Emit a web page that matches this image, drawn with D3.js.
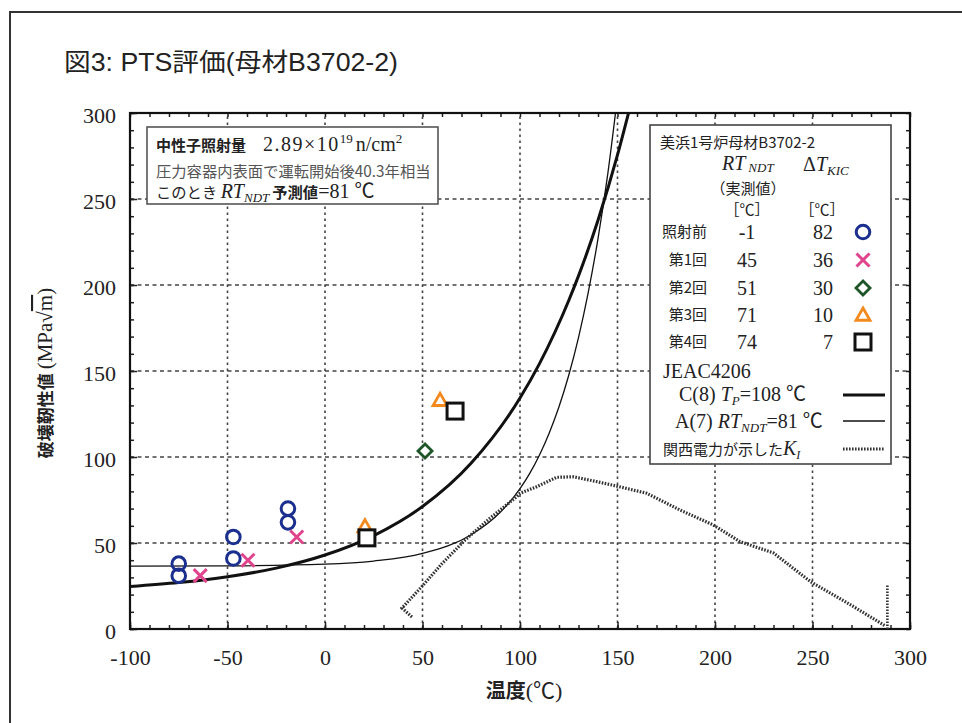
<!DOCTYPE html>
<html>
<head>
<meta charset="utf-8">
<script src="https://cdn.jsdelivr.net/npm/d3@7"></script>
<style>
  body { margin: 0; background: #fff; }
  svg { display: block; }
</style>
</head>
<body>
<svg id="chart" width="962" height="723"></svg>
<script>
// ---- axis ticks ----
const xTickValues = [-100, -50, 0, 50, 100, 150, 200, 250, 300];
const yTickValues = [0, 50, 100, 150, 200, 250, 300];

// ---- measured fracture toughness (T [°C], K [MPa√m]) ----
const preIrradiation = [[-75, 38], [-75, 31], [-47, 53.5], [-47, 41], [-19, 70], [-19, 62]];
const test1 = [[-64, 31], [-39.5, 40], [-14.5, 53.5]];
const test2 = [[51.3, 103.5]];
const test3 = [[20.5, 59.5], [59, 133]];
const test4 = [[21.5, 53], [66.7, 126.7]];

// ---- JEAC4206 C(8) curve, Tp = 108 °C ----
const curveC_T = [-100, -75, -50, -25, 0, 25, 50, 75, 100, 110, 125, 130, 140, 150, 156];
const curveC_K = [24.7, 27.0, 30.4, 35.4, 43.0, 54.3, 71.2, 96.5, 134.3, 154.3, 191, 205.3, 237.6, 275.6, 301.5];

// ---- JEAC4206 A(7) curve, RTndt = 81 °C ----
const curveA_T = [-100, -50, 0, 25, 50, 75, 90, 100, 105, 110, 115, 120, 125, 130, 135, 140, 145, 150];
const curveA_K = [36.5, 36.7, 37.7, 39.5, 43.9, 54.8, 68, 81.6, 90.5, 101.2, 114, 129.2, 147.5, 169.4, 195.7, 227, 264.5, 309.6];

// ---- K_I transient shown by 関西電力 ----
const kiT = [44.6, 39.5, 49.6, 60, 71.8, 84.6, 98.3, 100, 108.5, 118.8, 127.4, 139.3, 149.6, 165, 182, 199.1, 212.8, 230, 249, 268, 287.2];
const kiK = [7, 12.2, 24.6, 38, 51.7, 64.4, 76.9, 78.9, 82.7, 88.2, 88.5, 85.7, 83.1, 78.9, 69.2, 60.5, 50.8, 44.2, 27.5, 15.1, 1.9];
const kiEndT = 288.4;
const kiEndK = [0, 25.6];

// ---- legend table ----
const legendRows = ["照射前", "第1回", "第2回", "第3回", "第4回"];
const legendRT = ["-1", "45", "51", "71", "74"];
const legendDT = ["82", "36", "30", "10", "7"];

const SERIF = "'Liberation Serif','Times New Roman','Noto Sans CJK JP',serif";
const SANS = "'Liberation Sans',Arial,'Noto Sans CJK JP',sans-serif";
const CJK = "'Noto Sans CJK JP','Liberation Sans',sans-serif";

const svg = d3.select("#chart");

// outer page frame
svg.append("rect").attr("x", 10).attr("y", 12).attr("width", 1000).attr("height", 800)
  .attr("fill", "none").attr("stroke", "#333").attr("stroke-width", 2);

// title
svg.append("text").attr("x", 64).attr("y", 71)
  .attr("font-family", SANS).attr("font-size", 25).attr("fill", "#222")
  .attr("textLength", 334).attr("lengthAdjust", "spacingAndGlyphs")
  .text("図3: PTS評価(母材B3702-2)");

const x = d3.scaleLinear().domain([-100, 300]).range([130, 910]);
const y = d3.scaleLinear().domain([0, 300]).range([629, 113]);

const plot = svg.append("g");

// clip region for curves
svg.append("defs").append("clipPath").attr("id", "plotClip")
  .append("rect").attr("x", x(-100)).attr("y", y(300))
  .attr("width", x(300) - x(-100)).attr("height", y(0) - y(300));

// grid
const gridX = xTickValues.filter(v => v > -100 && v < 300);
const gridY = yTickValues.filter(v => v > 0 && v < 300);
plot.append("g").selectAll("line").data(gridX).join("line")
  .attr("x1", d => x(d)).attr("x2", d => x(d))
  .attr("y1", y(0)).attr("y2", y(300))
  .attr("stroke", "#444").attr("stroke-width", 1.6).attr("stroke-dasharray", "2.5,3.5");
plot.append("g").selectAll("line").data(gridY).join("line")
  .attr("y1", d => y(d)).attr("y2", d => y(d))
  .attr("x1", x(-100)).attr("x2", x(300))
  .attr("stroke", "#444").attr("stroke-width", 1.6).attr("stroke-dasharray", "4,3.5");

// axes: inward ticks on all four sides
const minorX = d3.range(-100, 301, 10);
const minorY = d3.range(0, 301, 10);
function styleAxis(g) {
  g.select(".domain").remove();
  g.selectAll(".tick line").attr("stroke", "#222").attr("stroke-width", 1.5);
}
plot.append("g").attr("transform", `translate(0,${y(0)})`)
  .call(d3.axisBottom(x).tickValues(minorX).tickSize(-4).tickFormat(""))
  .call(styleAxis);
plot.append("g").attr("transform", `translate(0,${y(300)})`)
  .call(d3.axisTop(x).tickValues(minorX).tickSize(-4).tickFormat(""))
  .call(styleAxis);
plot.append("g").attr("transform", `translate(${x(-100)},0)`)
  .call(d3.axisLeft(y).tickValues(minorY).tickSize(-4).tickFormat(""))
  .call(styleAxis);
plot.append("g").attr("transform", `translate(${x(300)},0)`)
  .call(d3.axisRight(y).tickValues(minorY).tickSize(-4).tickFormat(""))
  .call(styleAxis);

const plainNum = d => String(d);
const xAxis = plot.append("g").attr("transform", `translate(0,${y(0)})`)
  .call(d3.axisBottom(x).tickValues(xTickValues).tickSize(-7).tickPadding(20).tickFormat(plainNum))
  .call(styleAxis);
xAxis.selectAll("text").attr("font-family", SERIF).attr("font-size", 22).attr("fill", "#222");

const yAxis = plot.append("g").attr("transform", `translate(${x(-100)},0)`)
  .call(d3.axisLeft(y).tickValues(yTickValues).tickSize(-7).tickPadding(14).tickFormat(plainNum))
  .call(styleAxis);
yAxis.selectAll("text").attr("font-family", SERIF).attr("font-size", 22).attr("fill", "#222")
  .attr("dy", "0.45em");

// plot border
plot.append("rect").attr("x", x(-100)).attr("y", y(300))
  .attr("width", x(300) - x(-100)).attr("height", y(0) - y(300))
  .attr("fill", "none").attr("stroke", "#111").attr("stroke-width", 2.2);

// axis titles
const xl = svg.append("text").attr("x", 524).attr("y", 698).attr("text-anchor", "middle")
  .attr("fill", "#222");
xl.append("tspan").attr("font-family", CJK).attr("font-size", 20).attr("font-weight", "bold").text("温度");
xl.append("tspan").attr("font-family", SERIF).attr("font-size", 22).text("(℃)");

const yl = svg.append("text").attr("transform", "translate(52,373) rotate(-90)")
  .attr("text-anchor", "middle").attr("fill", "#222");
yl.append("tspan").attr("font-family", CJK).attr("font-size", 17).attr("font-weight", "bold").text("破壊靭性値 ");
yl.append("tspan").attr("font-family", SERIF).attr("font-size", 21).text("(MPa√");
yl.append("tspan").attr("font-family", SERIF).attr("font-size", 21).attr("text-decoration", "overline").text("m");
yl.append("tspan").attr("font-family", SERIF).attr("font-size", 21).text(")");

// curves
const curves = svg.append("g").attr("clip-path", "url(#plotClip)");
const smooth = d3.line().x(d => x(d[0])).y(d => y(d[1])).curve(d3.curveMonotoneX);
const straight = d3.line().x(d => x(d[0])).y(d => y(d[1]));

curves.append("path").datum(curveA_T.map((t, i) => [t, curveA_K[i]]))
  .attr("d", smooth).attr("fill", "none").attr("stroke", "#111").attr("stroke-width", 1.3);
curves.append("path").datum(curveC_T.map((t, i) => [t, curveC_K[i]]))
  .attr("d", smooth).attr("fill", "none").attr("stroke", "#111").attr("stroke-width", 3);
curves.append("path").datum(kiT.map((t, i) => [t, kiK[i]]))
  .attr("d", straight).attr("fill", "none").attr("stroke", "#333").attr("stroke-width", 3.2)
  .attr("stroke-dasharray", "1.6,1.4");
curves.append("path").datum(kiEndK.map(k => [kiEndT, k]))
  .attr("d", straight).attr("fill", "none").attr("stroke", "#333").attr("stroke-width", 2.6)
  .attr("stroke-dasharray", "1.6,1.4");

// markers
const BLUE = "#1b2f8f", PINK = "#e0448c", GREEN = "#1d5526", ORANGE = "#f28a1e";
function circleMark(g, cx, cy) {
  g.append("circle").attr("cx", cx).attr("cy", cy).attr("r", 6.8)
    .attr("fill", "none").attr("stroke", BLUE).attr("stroke-width", 3);
}
function crossMark(g, cx, cy) {
  const s = 6.5;
  g.append("path").attr("d", `M${cx - s},${cy - s}L${cx + s},${cy + s}M${cx - s},${cy + s}L${cx + s},${cy - s}`)
    .attr("stroke", PINK).attr("stroke-width", 3).attr("fill", "none");
}
function diamondMark(g, cx, cy) {
  const s = 7;
  g.append("path").attr("d", `M${cx},${cy - s}L${cx + s},${cy}L${cx},${cy + s}L${cx - s},${cy}Z`)
    .attr("stroke", GREEN).attr("stroke-width", 2.8).attr("fill", "#fff");
}
function triMark(g, cx, cy) {
  const s = 7;
  g.append("path").attr("d", `M${cx},${cy - s}L${cx + s},${cy + s * 0.75}L${cx - s},${cy + s * 0.75}Z`)
    .attr("stroke", ORANGE).attr("stroke-width", 2.8).attr("fill", "#fff");
}
function squareMark(g, cx, cy) {
  const s = 8;
  g.append("rect").attr("x", cx - s).attr("y", cy - s).attr("width", 2 * s).attr("height", 2 * s)
    .attr("stroke", "#111").attr("stroke-width", 3).attr("fill", "#fff");
}
const marks = svg.append("g");
preIrradiation.forEach(d => circleMark(marks, x(d[0]), y(d[1])));
test1.forEach(d => crossMark(marks, x(d[0]), y(d[1])));
test2.forEach(d => diamondMark(marks, x(d[0]), y(d[1])));
test3.forEach(d => triMark(marks, x(d[0]), y(d[1])));
test4.forEach(d => squareMark(marks, x(d[0]), y(d[1])));

// fluence note box
const note = svg.append("g");
note.append("rect").attr("x", 147).attr("y", 127).attr("width", 291).attr("height", 77)
  .attr("fill", "#fff").attr("stroke", "#555").attr("stroke-width", 1.6);
const n1 = note.append("text").attr("x", 156).attr("y", 151).attr("fill", "#222");
n1.append("tspan").attr("font-family", CJK).attr("font-size", 15).attr("font-weight", "bold").text("中性子照射量");
n1.append("tspan").attr("font-family", SERIF).attr("font-size", 20).attr("dx", 17).attr("letter-spacing", 1.5).text("2.89×10");
n1.append("tspan").attr("font-family", SERIF).attr("font-size", 13).attr("dy", -8).text("19");
n1.append("tspan").attr("font-family", SERIF).attr("font-size", 20).attr("dy", 8).attr("dx", 3).text("n/cm");
n1.append("tspan").attr("font-family", SERIF).attr("font-size", 13).attr("dy", -8).text("2");
note.append("text").attr("x", 156).attr("y", 177).attr("fill", "#555")
  .attr("font-family", CJK).attr("font-size", 15.3).text("圧力容器内表面で運転開始後40.3年相当");
const n3 = note.append("text").attr("x", 156).attr("y", 198).attr("fill", "#222");
n3.append("tspan").attr("font-family", CJK).attr("font-size", 15.3).text("このとき ");
n3.append("tspan").attr("font-family", SERIF).attr("font-size", 20).attr("font-style", "italic").text("RT");
n3.append("tspan").attr("font-family", SERIF).attr("font-size", 13).attr("font-style", "italic").attr("dy", 4).text("NDT");
n3.append("tspan").attr("font-family", CJK).attr("font-size", 15.3).attr("font-weight", "bold").attr("dy", -4).attr("dx", 3).text("予測値");
n3.append("tspan").attr("font-family", SERIF).attr("font-size", 20).text("=81 ℃");

// legend box
const lg = svg.append("g");
lg.append("rect").attr("x", 650).attr("y", 125).attr("width", 241).attr("height", 339)
  .attr("fill", "#fff").attr("stroke", "#444").attr("stroke-width", 1.6);
lg.append("text").attr("x", 660).attr("y", 148).attr("font-family", CJK).attr("font-size", 15)
  .attr("fill", "#222").text("美浜1号炉母材B3702-2");
const h1 = lg.append("text").attr("x", 722).attr("y", 170).attr("fill", "#222");
h1.append("tspan").attr("font-family", SERIF).attr("font-size", 20).attr("font-style", "italic").text("RT");
h1.append("tspan").attr("font-family", SERIF).attr("font-size", 13).attr("font-style", "italic").attr("dy", 2).attr("dx", 3).text("NDT");
const h2 = lg.append("text").attr("x", 803).attr("y", 171).attr("fill", "#222");
h2.append("tspan").attr("font-family", SERIF).attr("font-size", 20).text("Δ");
h2.append("tspan").attr("font-family", SERIF).attr("font-size", 20).attr("font-style", "italic").text("T");
h2.append("tspan").attr("font-family", SERIF).attr("font-size", 13).attr("font-style", "italic").attr("dy", 4).text("KIC");
lg.append("text").attr("x", 748).attr("y", 194).attr("text-anchor", "middle")
  .attr("font-family", CJK).attr("font-size", 15).attr("fill", "#222").text("（実測値）");
lg.append("text").attr("x", 747).attr("y", 215).attr("text-anchor", "middle")
  .attr("font-family", CJK).attr("font-size", 15).attr("fill", "#222").text("［℃］");
lg.append("text").attr("x", 822).attr("y", 215).attr("text-anchor", "middle")
  .attr("font-family", CJK).attr("font-size", 15).attr("fill", "#222").text("［℃］");

const rowY = [232, 260, 288, 315, 342];
const rowMarks = [circleMark, crossMark, diamondMark, triMark, squareMark];
legendRows.forEach((label, i) => {
  lg.append("text").attr("x", 707).attr("y", rowY[i] + 5).attr("text-anchor", "end")
    .attr("font-family", CJK).attr("font-size", 15).attr("fill", "#222").text(label);
  lg.append("text").attr("x", 747).attr("y", rowY[i] + 7).attr("text-anchor", "middle")
    .attr("font-family", SERIF).attr("font-size", 20).attr("fill", "#222").text(legendRT[i]);
  lg.append("text").attr("x", 833).attr("y", rowY[i] + 7).attr("text-anchor", "end")
    .attr("font-family", SERIF).attr("font-size", 20).attr("fill", "#222").text(legendDT[i]);
  rowMarks[i](lg, 863, rowY[i]);
});

lg.append("text").attr("x", 663).attr("y", 378).attr("font-family", SERIF).attr("font-size", 20)
  .attr("fill", "#222").text("JEAC4206");
const c8 = lg.append("text").attr("x", 679).attr("y", 401).attr("fill", "#222")
  .attr("font-family", SERIF).attr("font-size", 20);
c8.append("tspan").text("C(8) ");
c8.append("tspan").attr("font-style", "italic").text("T");
c8.append("tspan").attr("font-style", "italic").attr("font-size", 13).attr("dy", 4).text("P");
c8.append("tspan").attr("dy", -4).text("=108 ℃");
const a7 = lg.append("text").attr("x", 675).attr("y", 428).attr("fill", "#222")
  .attr("font-family", SERIF).attr("font-size", 20);
a7.append("tspan").text("A(7) ");
a7.append("tspan").attr("font-style", "italic").text("RT");
a7.append("tspan").attr("font-style", "italic").attr("font-size", 13).attr("dy", 4).text("NDT");
a7.append("tspan").attr("dy", -4).text("=81 ℃");
const ki = lg.append("text").attr("x", 663).attr("y", 455).attr("fill", "#222");
ki.append("tspan").attr("font-family", CJK).attr("font-size", 15).text("関西電力が示した");
ki.append("tspan").attr("font-family", SERIF).attr("font-size", 20).attr("font-style", "italic").text("K");
ki.append("tspan").attr("font-family", SERIF).attr("font-size", 12).attr("font-style", "italic").attr("dy", 4).text("I");

lg.append("line").attr("x1", 843).attr("x2", 885).attr("y1", 395).attr("y2", 395)
  .attr("stroke", "#111").attr("stroke-width", 3);
lg.append("line").attr("x1", 843).attr("x2", 885).attr("y1", 421).attr("y2", 421)
  .attr("stroke", "#111").attr("stroke-width", 1.3);
lg.append("line").attr("x1", 843).attr("x2", 885).attr("y1", 449).attr("y2", 449)
  .attr("stroke", "#333").attr("stroke-width", 3.2).attr("stroke-dasharray", "1.6,1.4");
</script>
</body>
</html>
